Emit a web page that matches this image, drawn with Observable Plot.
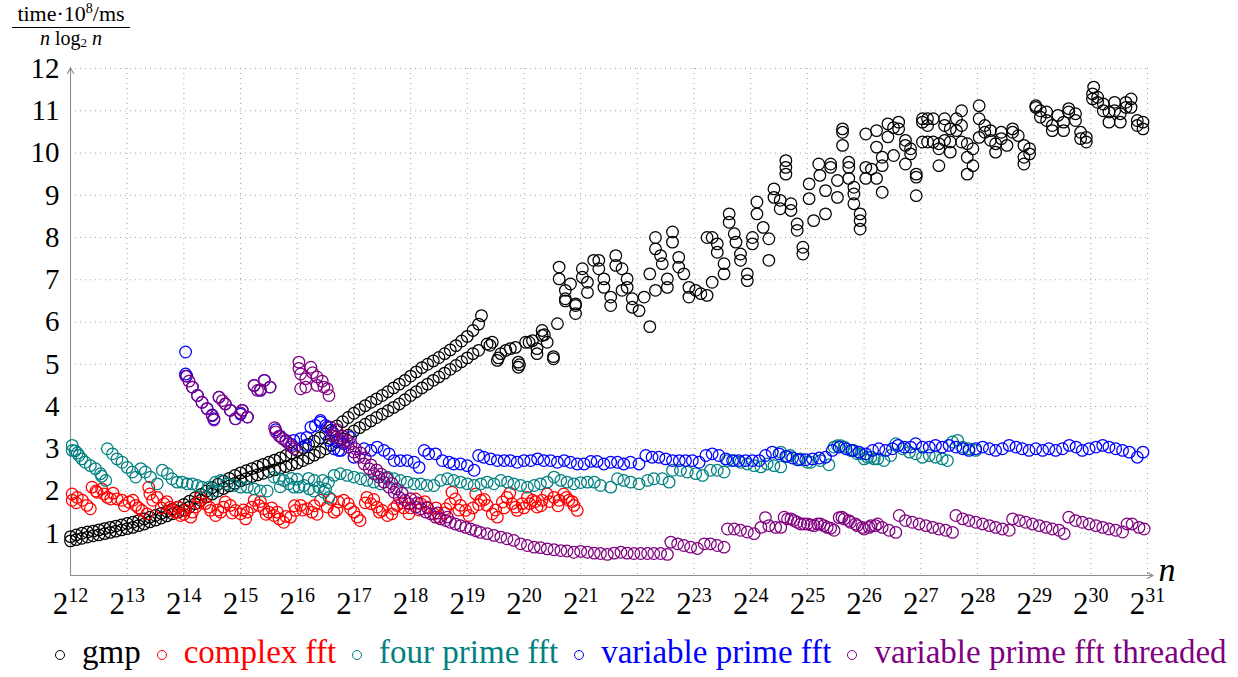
<!DOCTYPE html>
<html><head><meta charset="utf-8">
<script src="https://cdn.jsdelivr.net/npm/d3@7"></script>
<script src="https://cdn.jsdelivr.net/npm/@observablehq/plot@0.6"></script>
<style>
body{margin:0;background:#fff;}
#chart{position:absolute;left:0;top:0;}
#legend{font-family:"Liberation Serif",serif;font-size:33px;position:absolute;left:55px;top:633px;white-space:nowrap;line-height:38px}
#legend .it{margin-right:16px}
#legend .mk{display:inline-block;box-sizing:border-box;width:10px;height:10px;border:1.3px solid;border-radius:50%;margin-right:17px;vertical-align:3.5px}
</style></head><body><div id="chart"></div><div id="legend"></div>
<script>
const seriesNames = ["gmp","complex fft","four prime fft","variable prime fft","variable prime fft threaded"];
const seriesColors = ["#000000","#ff0000","#008080","#0000ff","#800080"];
const xTicks = [12,13,14,15,16,17,18,19,20,21,22,23,24,25,26,27,28,29,30,31];
const yTicks = [1,2,3,4,5,6,7,8,9,10,11,12];
const xDomain = [12,31];
const yDomain = [0,12];

// x = log2 n, y = time*1e8/ms / (n log2 n)
const gmpLow = [[12.0,.82],[12.1,.85],[12.2,.88],[12.3,.91],[12.4,.94],[12.5,.96],[12.6,.99],[12.7,1.02],[12.8,1.05],[12.9,1.08],[13.0,1.11],[13.1,1.14],[13.2,1.18],[13.3,1.22],[13.4,1.27],[13.5,1.31],[13.6,1.36],[13.7,1.41],[13.8,1.46],[13.9,1.5],[14.0,1.55],[14.1,1.62],[14.2,1.7],[14.3,1.78],[14.4,1.86],[14.5,1.93],[14.6,2.0],[14.7,2.06],[14.8,2.12],[14.9,2.18],[15.0,2.24],[15.1,2.29],[15.2,2.34],[15.3,2.38],[15.4,2.42],[15.5,2.46],[15.6,2.5],[15.7,2.54],[15.8,2.58],[15.9,2.62],[16.0,2.66],[16.1,2.72],[16.2,2.78],[16.3,2.85],[16.4,2.92],[16.5,3.0],[16.6,3.08],[16.7,3.16],[16.8,3.24],[16.9,3.32],[17.0,3.42],[17.1,3.5],[17.2,3.58],[17.3,3.66],[17.4,3.74],[17.5,3.82],[17.6,3.9],[17.7,3.98],[17.8,4.06],[17.9,4.16],[18.0,4.26],[18.1,4.35],[18.2,4.44],[18.3,4.53],[18.4,4.62],[18.5,4.7],[18.6,4.79],[18.7,4.88],[18.8,4.97],[18.9,5.06],[19.0,5.15],[19.1,5.25],[19.2,5.33]];
const gmpHigh = [[12.0,.92],[12.1,.96],[12.2,1.0],[12.3,1.03],[12.4,1.05],[12.5,1.08],[12.6,1.11],[12.7,1.14],[12.8,1.17],[12.9,1.2],[13.0,1.23],[13.1,1.26],[13.2,1.3],[13.3,1.34],[13.4,1.38],[13.5,1.42],[13.6,1.47],[13.7,1.52],[13.8,1.57],[13.9,1.62],[14.0,1.68],[14.1,1.76],[14.2,1.84],[14.3,1.92],[14.4,2.0],[14.5,2.08],[14.6,2.16],[14.7,2.23],[14.8,2.3],[14.9,2.37],[15.0,2.43],[15.1,2.48],[15.2,2.53],[15.3,2.58],[15.4,2.63],[15.5,2.68],[15.6,2.73],[15.7,2.78],[15.8,2.84],[15.9,2.9],[16.0,2.96],[16.1,3.03],[16.2,3.1],[16.3,3.18],[16.4,3.26],[16.5,3.35],[16.6,3.44],[16.7,3.54],[16.8,3.64],[16.9,3.74],[17.0,3.84],[17.1,3.93],[17.2,4.02],[17.3,4.1],[17.4,4.18],[17.5,4.26],[17.6,4.35],[17.7,4.44],[17.8,4.53],[17.9,4.62],[18.0,4.72],[18.1,4.82],[18.2,4.92],[18.3,5.0],[18.4,5.08],[18.5,5.16],[18.6,5.25],[18.7,5.34],[18.8,5.44],[18.9,5.55],[19.0,5.66],[19.1,5.8],[19.2,5.95],[19.25,6.15]];
const gmpScatter = [[19.35,5.48],[19.4,5.45],[19.44,5.52],[19.53,5.09],[19.55,5.15],[19.59,5.25],[19.68,5.33],[19.76,5.37],[19.85,5.4],[19.9,5.05],[19.9,4.93],[19.92,4.99],[20.03,5.52],[20.09,5.52],[20.15,5.56],[20.23,5.37],[20.23,5.25],[20.32,5.8],[20.32,5.68],[20.36,5.7],[20.41,5.52],[20.52,5.13],[20.52,5.18],[20.59,5.96],[20.62,7.3],[20.62,7.02],[20.73,6.75],[20.73,6.55],[20.73,6.5],[20.82,6.9],[20.91,6.43],[20.91,6.2],[20.91,6.39],[21.03,7.26],[21.03,7.06],[21.12,6.94],[21.12,6.7],[21.23,7.46],[21.32,7.46],[21.32,7.26],[21.41,7.02],[21.41,6.82],[21.53,6.59],[21.53,6.39],[21.62,7.57],[21.62,7.34],[21.73,7.26],[21.73,6.75],[21.82,7.02],[21.82,6.82],[21.91,6.55],[21.91,6.35],[22.03,6.27],[22.12,6.59],[22.22,5.89],[22.22,7.14],[22.32,6.75],[22.32,8.0],[22.32,7.73],[22.41,7.57],[22.44,7.38],[22.53,7.02],[22.53,6.82],[22.62,8.13],[22.62,7.89],[22.73,7.53],[22.73,7.3],[22.82,7.14],[22.91,6.82],[22.91,6.59],[23.03,6.75],[23.12,6.67],[23.23,6.63],[23.23,8.0],[23.32,8.0],[23.32,6.94],[23.41,7.85],[23.41,7.65],[23.53,7.38],[23.53,7.14],[23.62,8.56],[23.62,8.36],[23.71,8.09],[23.74,7.89],[23.82,7.61],[23.82,7.46],[23.94,7.14],[23.94,6.98],[24.03,8.0],[24.03,7.85],[24.11,8.84],[24.11,8.56],[24.22,8.24],[24.32,7.97],[24.32,7.46],[24.41,9.15],[24.41,8.95],[24.52,8.88],[24.52,8.68],[24.62,9.82],[24.62,9.66],[24.62,9.5],[24.71,8.8],[24.71,8.64],[24.82,8.32],[24.82,8.17],[24.92,7.77],[24.92,7.61],[25.03,9.27],[25.03,8.92],[25.11,8.4],[25.2,9.74],[25.22,9.47],[25.32,9.11],[25.32,8.56],[25.41,9.74],[25.41,9.66],[25.53,9.35],[25.53,8.95],[25.62,10.57],[25.62,10.49],[25.62,10.18],[25.73,9.78],[25.73,9.66],[25.73,9.4],[25.82,9.19],[25.82,9.03],[25.82,8.8],[25.93,8.56],[25.93,8.4],[25.93,8.2],[26.03,10.45],[26.03,9.66],[26.03,9.4],[26.13,9.62],[26.22,10.53],[26.22,10.14],[26.22,9.4],[26.32,9.9],[26.32,9.7],[26.32,9.07],[26.42,10.69],[26.42,10.38],[26.52,9.94],[26.52,10.6],[26.61,10.73],[26.61,10.57],[26.73,10.3],[26.73,10.18],[26.73,9.74],[26.82,10.1],[26.82,9.98],[26.92,9.5],[26.92,9.43],[26.92,8.99],[27.03,10.81],[27.03,10.73],[27.03,10.26],[27.12,10.81],[27.12,10.65],[27.12,10.26],[27.22,10.81],[27.22,10.26],[27.32,10.22],[27.32,10.1],[27.32,9.7],[27.42,10.81],[27.42,10.65],[27.42,10.3],[27.52,10.57],[27.52,10.26],[27.52,10.02],[27.63,10.81],[27.63,10.53],[27.72,11.0],[27.72,10.65],[27.72,10.26],[27.82,10.22],[27.82,9.9],[27.82,9.5],[27.92,10.1],[27.92,9.7],[28.03,11.12],[28.03,10.81],[28.03,10.37],[28.13,10.65],[28.13,10.49],[28.23,10.53],[28.23,10.3],[28.32,10.22],[28.32,10.02],[28.42,10.49],[28.42,10.34],[28.52,10.18],[28.62,10.57],[28.62,10.49],[28.72,10.41],[28.82,10.18],[28.82,9.9],[28.82,9.74],[28.92,10.1],[28.92,9.98],[29.03,11.12],[29.03,11.08],[29.11,11.0],[29.11,10.85],[29.22,10.97],[29.22,10.77],[29.32,10.65],[29.32,10.53],[29.42,10.89],[29.52,10.53],[29.52,10.73],[29.61,11.05],[29.61,10.97],[29.73,10.93],[29.73,10.77],[29.82,10.49],[29.82,10.34],[29.92,10.37],[29.92,10.26],[30.03,11.4],[30.03,11.28],[30.05,11.56],[30.12,11.32],[30.12,11.2],[30.22,11.16],[30.22,11.0],[30.32,10.97],[30.32,10.73],[30.42,11.2],[30.42,11.0],[30.52,10.93],[30.52,10.73],[30.62,11.2],[30.62,11.08],[30.71,11.28],[30.71,11.08],[30.82,10.77],[30.82,10.65],[30.92,10.73],[30.92,10.57]];
const complexFft = [[12.03,1.93],[12.03,1.78],[12.1,1.72],[12.12,1.85],[12.21,1.78],[12.29,1.66],[12.35,1.58],[12.38,2.09],[12.45,2.0],[12.47,1.97],[12.55,2.05],[12.59,1.93],[12.65,1.85],[12.71,1.81],[12.75,1.95],[12.82,1.81],[12.91,1.78],[12.95,1.65],[13.03,1.74],[13.1,1.78],[13.15,1.66],[13.2,1.6],[13.26,1.54],[13.35,1.46],[13.38,2.09],[13.4,1.93],[13.45,1.78],[13.53,1.85],[13.6,1.6],[13.65,1.7],[13.7,1.75],[13.76,1.62],[13.8,1.55],[13.85,1.5],[13.9,1.62],[13.94,1.42],[14.0,1.45],[14.03,1.54],[14.12,1.38],[14.15,1.5],[14.21,1.62],[14.25,1.72],[14.29,1.85],[14.38,1.7],[14.45,1.62],[14.47,1.54],[14.56,1.42],[14.6,1.55],[14.65,1.5],[14.7,1.62],[14.73,1.74],[14.82,1.66],[14.85,1.48],[14.91,1.54],[15.0,1.46],[15.05,1.55],[15.09,1.34],[15.12,1.5],[15.2,1.62],[15.24,1.78],[15.32,1.66],[15.35,1.75],[15.41,1.58],[15.45,1.45],[15.5,1.5],[15.55,1.6],[15.59,1.42],[15.65,1.5],[15.68,1.34],[15.76,1.26],[15.8,1.4],[15.88,1.38],[15.95,1.65],[15.97,1.54],[16.06,1.66],[16.1,1.55],[16.18,1.58],[16.26,1.5],[16.3,1.65],[16.35,1.45],[16.41,1.78],[16.53,1.62],[16.6,1.8],[16.65,1.5],[16.7,1.55],[16.73,1.74],[16.82,1.78],[16.9,1.7],[16.94,1.58],[17.0,1.5],[17.06,1.38],[17.11,1.3],[17.2,1.72],[17.23,1.85],[17.3,1.7],[17.35,1.8],[17.41,1.62],[17.45,1.5],[17.5,1.54],[17.59,1.42],[17.67,1.46],[17.7,1.58],[17.76,1.66],[17.85,1.72],[17.88,1.6],[17.97,1.46],[18.0,1.6],[18.09,1.81],[18.15,1.55],[18.18,1.7],[18.25,1.75],[18.29,1.62],[18.41,1.46],[18.45,1.6],[18.5,1.38],[18.6,1.48],[18.62,1.58],[18.7,1.7],[18.73,1.97],[18.79,1.81],[18.85,1.55],[18.88,1.66],[18.97,1.54],[19.03,1.42],[19.1,1.6],[19.15,1.93],[19.2,1.68],[19.24,1.78],[19.3,1.8],[19.35,1.66],[19.44,1.46],[19.5,1.55],[19.53,1.38],[19.62,1.74],[19.65,1.6],[19.7,1.85],[19.75,1.95],[19.79,1.7],[19.85,1.62],[19.88,1.54],[19.97,1.7],[20.0,1.6],[20.06,1.85],[20.1,1.7],[20.15,1.78],[20.2,1.75],[20.23,1.62],[20.3,1.65],[20.32,1.78],[20.41,1.93],[20.45,1.75],[20.53,1.85],[20.6,1.65],[20.62,1.78],[20.7,1.93],[20.75,1.85],[20.79,1.78],[20.85,1.75],[20.88,1.66],[20.94,1.54]];
const fourPrimeFft = [[12.03,3.08],[12.03,2.96],[12.08,2.95],[12.12,2.9],[12.15,2.84],[12.2,2.76],[12.26,2.68],[12.35,2.6],[12.44,2.53],[12.53,2.41],[12.55,2.35],[12.62,2.25],[12.65,3.0],[12.74,2.88],[12.82,2.76],[12.91,2.68],[13.0,2.56],[13.09,2.45],[13.15,2.33],[13.24,2.53],[13.32,2.45],[13.41,2.33],[13.53,2.17],[13.62,2.49],[13.71,2.41],[13.79,2.29],[13.88,2.21],[13.97,2.21],[14.06,2.17],[14.15,2.17],[14.24,2.13],[14.32,2.09],[14.44,2.09],[14.53,2.0],[14.56,2.21],[14.65,2.25],[14.76,2.17],[14.88,2.13],[15.0,2.09],[15.12,2.09],[15.24,2.05],[15.35,2.0],[15.47,2.0],[15.59,2.33],[15.68,2.29],[15.7,2.1],[15.76,2.25],[15.85,2.17],[15.9,2.3],[15.94,2.09],[16.0,2.28],[16.03,2.09],[16.12,2.13],[16.2,2.3],[16.21,2.05],[16.29,2.0],[16.3,2.25],[16.38,2.09],[16.45,2.25],[16.47,1.97],[16.5,2.05],[16.55,2.2],[16.56,1.85],[16.65,2.37],[16.76,2.41],[16.88,2.37],[17.0,2.33],[17.12,2.29],[17.23,2.25],[17.35,2.21],[17.47,2.17],[17.59,2.33],[17.71,2.29],[17.82,2.25],[17.94,2.21],[18.06,2.17],[18.18,2.17],[18.29,2.13],[18.41,2.13],[18.53,2.25],[18.65,2.29],[18.76,2.25],[18.88,2.21],[19.0,2.17],[19.12,2.13],[19.24,2.17],[19.35,2.21],[19.47,2.17],[19.59,2.25],[19.71,2.21],[19.82,2.17],[19.94,2.13],[20.06,2.09],[20.18,2.13],[20.29,2.17],[20.41,2.21],[20.53,2.33],[20.65,2.25],[20.76,2.21],[20.88,2.17],[21.0,2.2],[21.12,2.21],[21.24,2.21],[21.35,2.13],[21.53,2.09],[21.65,2.29],[21.76,2.25],[21.88,2.21],[22.03,2.17],[22.18,2.25],[22.29,2.29],[22.44,2.29],[22.56,2.21],[22.62,2.49],[22.76,2.49],[22.88,2.45],[23.03,2.41],[23.15,2.37],[23.29,2.49],[23.41,2.49],[23.53,2.45],[23.59,2.72],[23.71,2.72],[23.82,2.68],[23.94,2.64],[24.06,2.6],[24.18,2.57],[24.29,2.64],[24.41,2.6],[24.53,2.57],[24.53,2.92],[24.65,2.82],[24.7,2.84],[24.82,2.74],[24.88,2.76],[25.0,2.68],[25.06,2.68],[25.23,2.72],[25.38,2.62],[25.47,3.04],[25.53,3.07],[25.59,3.07],[25.65,3.04],[25.76,2.96],[25.82,2.96],[25.88,2.88],[25.94,2.88],[26.0,2.76],[26.06,2.8],[26.12,2.8],[26.18,2.76],[26.24,2.76],[26.35,2.72],[26.47,2.84],[26.56,3.12],[26.68,3.0],[26.8,2.92],[26.91,2.88],[27.03,2.8],[27.15,2.84],[27.26,2.8],[27.38,2.76],[27.47,2.72],[27.56,3.16],[27.65,3.2],[27.74,3.04],[27.85,3.0],[27.97,2.96]];
const variablePrimeFft = [[14.03,5.29],[14.03,4.77],[14.05,4.72],[14.15,4.46],[14.24,4.26],[14.32,4.1],[14.41,3.95],[14.5,3.8],[14.53,3.71],[14.62,4.22],[14.73,4.06],[14.82,3.91],[14.91,3.71],[15.0,3.82],[15.03,3.91],[15.12,3.75],[15.24,4.5],[15.35,4.38],[15.42,4.62],[15.52,4.46],[15.62,3.45],[15.7,3.3],[15.8,3.2],[15.9,3.1],[15.94,3.2],[16.06,3.24],[16.15,3.08],[16.17,3.27],[16.24,3.51],[16.32,3.55],[16.41,3.63],[16.41,3.67],[16.5,3.55],[16.53,3.51],[16.56,3.2],[16.62,3.39],[16.65,3.0],[16.71,3.2],[16.73,2.96],[16.77,2.96],[16.82,3.12],[16.94,3.27],[17.0,2.8],[17.18,3.0],[17.3,2.96],[17.41,3.04],[17.53,2.96],[17.62,2.88],[17.71,2.72],[17.82,2.72],[17.94,2.72],[18.06,2.68],[18.15,2.56],[18.24,2.96],[18.32,2.88],[18.44,2.88],[18.56,2.72],[18.68,2.68],[18.76,2.64],[18.88,2.64],[19.0,2.6],[19.12,2.49],[19.2,2.84],[19.29,2.8],[19.41,2.76],[19.53,2.72],[19.65,2.72],[19.76,2.72],[19.88,2.68],[20.0,2.72],[20.12,2.72],[20.24,2.76],[20.35,2.72],[20.47,2.72],[20.59,2.68],[20.71,2.72],[20.82,2.68],[20.94,2.64],[21.06,2.64],[21.18,2.7],[21.29,2.7],[21.41,2.64],[21.53,2.68],[21.65,2.68],[21.76,2.64],[21.88,2.68],[22.03,2.64],[22.15,2.84],[22.26,2.8],[22.38,2.8],[22.5,2.76],[22.62,2.72],[22.74,2.72],[22.85,2.72],[22.97,2.72],[23.09,2.68],[23.21,2.84],[23.32,2.88],[23.44,2.84],[23.56,2.76],[23.68,2.72],[23.79,2.72],[23.91,2.72],[24.03,2.72],[24.15,2.72],[24.26,2.84],[24.38,2.92],[24.5,2.88],[24.62,2.82],[24.74,2.78],[24.85,2.74],[24.97,2.74],[25.09,2.76],[25.21,2.78],[25.32,2.8],[25.44,2.96],[25.56,3.04],[25.68,3.0],[25.79,2.96],[25.91,2.92],[26.03,2.88],[26.15,2.96],[26.26,3.0],[26.38,2.96],[26.5,3.0],[26.6,3.08],[26.71,3.04],[26.82,3.04],[26.91,3.12],[27.03,3.04],[27.15,3.04],[27.26,3.08],[27.38,3.04],[27.5,3.08],[27.62,3.04],[27.74,3.0],[27.85,2.96],[27.97,3.0],[28.09,3.04],[28.21,3.0],[28.32,2.96],[28.44,3.0],[28.56,3.08],[28.68,3.04],[28.79,3.0],[28.91,2.96],[29.03,3.0],[29.15,2.96],[29.26,3.0],[29.38,2.96],[29.5,3.0],[29.62,3.08],[29.74,3.04],[29.85,2.96],[29.97,3.0],[30.09,3.04],[30.21,3.08],[30.32,3.04],[30.44,3.0],[30.56,2.96],[30.68,2.92],[30.82,2.8],[30.92,2.92]];
const variablePrimeThreaded = [[14.03,4.72],[14.09,4.6],[14.15,4.46],[14.24,4.26],[14.32,4.1],[14.41,3.95],[14.5,3.78],[14.53,3.68],[14.62,4.22],[14.68,4.14],[14.73,4.06],[14.82,3.91],[14.91,3.71],[15.0,3.85],[15.03,3.91],[15.12,3.75],[15.24,4.5],[15.3,4.38],[15.35,4.4],[15.42,4.62],[15.52,4.46],[15.6,3.5],[15.62,3.4],[15.68,3.3],[15.74,3.24],[15.8,3.18],[15.85,3.12],[15.9,3.05],[15.95,3.0],[16.03,5.05],[16.03,4.9],[16.06,4.77],[16.06,4.42],[16.15,4.66],[16.15,4.46],[16.24,4.93],[16.27,4.8],[16.35,4.7],[16.35,4.5],[16.44,4.6],[16.47,4.46],[16.53,4.42],[16.56,4.26],[16.59,3.51],[16.62,3.3],[16.65,3.35],[16.7,3.45],[16.73,3.23],[16.8,3.3],[16.82,3.16],[16.88,3.2],[16.9,3.04],[16.95,3.12],[17.0,2.92],[17.03,3.0],[17.09,2.8],[17.12,2.9],[17.18,2.64],[17.2,2.78],[17.27,2.53],[17.3,2.62],[17.35,2.41],[17.4,2.5],[17.44,2.33],[17.48,2.4],[17.53,2.21],[17.58,2.3],[17.62,2.09],[17.67,2.18],[17.71,1.97],[17.75,2.05],[17.8,1.85],[17.85,1.95],[17.9,1.78],[17.97,1.7],[18.0,1.82],[18.09,1.62],[18.12,1.72],[18.18,1.58],[18.27,1.5],[18.3,1.6],[18.35,1.46],[18.44,1.38],[18.48,1.48],[18.53,1.34],[18.62,1.3],[18.65,1.38],[18.7,1.26],[18.79,1.22],[18.88,1.18],[18.97,1.14],[19.06,1.1],[19.15,1.06],[19.23,1.02],[19.35,0.99],[19.47,0.95],[19.59,0.91],[19.7,0.87],[19.82,0.83],[19.94,0.75],[20.06,0.71],[20.18,0.67],[20.29,0.66],[20.41,0.63],[20.53,0.61],[20.65,0.59],[20.76,0.58],[20.88,0.55],[21.0,0.57],[21.12,0.55],[21.24,0.53],[21.35,0.52],[21.47,0.5],[21.59,0.53],[21.71,0.55],[21.82,0.53],[21.94,0.52],[22.06,0.52],[22.18,0.52],[22.29,0.52],[22.41,0.52],[22.53,0.5],[22.59,0.79],[22.71,0.75],[22.82,0.71],[22.94,0.67],[23.06,0.64],[23.18,0.75],[23.29,0.75],[23.41,0.71],[23.53,0.67],[23.59,1.1],[23.71,1.1],[23.82,1.07],[23.94,1.03],[24.06,0.99],[24.18,1.14],[24.26,1.37],[24.32,1.18],[24.44,1.14],[24.53,1.14],[24.59,1.38],[24.65,1.34],[24.71,1.34],[24.76,1.3],[24.82,1.26],[24.88,1.22],[24.94,1.22],[25.0,1.22],[25.06,1.2],[25.12,1.18],[25.18,1.22],[25.23,1.22],[25.29,1.18],[25.35,1.14],[25.41,1.12],[25.47,1.07],[25.56,1.37],[25.61,1.38],[25.65,1.34],[25.73,1.3],[25.76,1.26],[25.85,1.22],[25.88,1.18],[25.97,1.14],[26.0,1.1],[26.09,1.14],[26.12,1.18],[26.2,1.18],[26.24,1.22],[26.32,1.14],[26.44,1.07],[26.56,1.02],[26.62,1.42],[26.73,1.3],[26.85,1.26],[26.97,1.22],[27.09,1.18],[27.21,1.14],[27.32,1.1],[27.44,1.07],[27.56,1.02],[27.62,1.42],[27.74,1.34],[27.85,1.3],[27.97,1.26],[28.09,1.22],[28.21,1.18],[28.32,1.14],[28.44,1.1],[28.56,1.07],[28.62,1.34],[28.74,1.3],[28.85,1.26],[28.97,1.22],[29.09,1.18],[29.21,1.14],[29.32,1.1],[29.44,1.07],[29.53,0.99],[29.61,1.38],[29.73,1.3],[29.85,1.26],[29.97,1.22],[30.09,1.18],[30.21,1.14],[30.32,1.1],[30.44,1.07],[30.56,1.03],[30.64,1.22],[30.73,1.22],[30.85,1.14],[30.94,1.1]];

const seriesData = [gmpLow.concat(gmpHigh, gmpScatter), complexFft, fourPrimeFft, variablePrimeFft, variablePrimeThreaded];

const gridStyle = {stroke:"#9a9a9a", strokeOpacity:1, strokeWidth:0.9, strokeDasharray:"1,4"};
const axisColor = "#8c8c8c";

const chart = Plot.plot({
  width:1238, height:620,
  marginLeft:70, marginRight:91, marginTop:68, marginBottom:45,
  style:{fontFamily:"'Liberation Serif', serif", background:"white", color:"black"},
  x:{domain:xDomain, axis:null},
  y:{domain:yDomain, axis:null},
  marks:[
    Plot.gridX(xTicks.slice(1), gridStyle),
    Plot.gridY(yTicks, gridStyle),
    Plot.axisY(yTicks, {tickSize:0, tickPadding:11, fontSize:29, tickFormat:d=>String(d), label:null}),
    Plot.axisX(xTicks, {tickSize:0, tickPadding:16, fontSize:31, tickFormat:d=>String(d), label:null}),
    Plot.arrow([{x1:xDomain[0], y1:yDomain[0], x2:xDomain[1]+0.1, y2:yDomain[0]}], {x1:"x1", y1:"y1", x2:"x2", y2:"y2", stroke:axisColor, strokeWidth:1.1, headLength:9, headAngle:55}),
    Plot.arrow([{x1:xDomain[0], y1:yDomain[0], x2:xDomain[0], y2:yDomain[1]+0.02}], {x1:"x1", y1:"y1", x2:"x2", y2:"y2", stroke:axisColor, strokeWidth:1.1, headLength:9, headAngle:55}),
    ...seriesData.map((pts, i) => Plot.dot(pts, {x:d=>d[0], y:d=>d[1], r:5.8, stroke:seriesColors[i], strokeWidth:1.25, fill:"none"})),
    Plot.text(["n"], {x:()=>xDomain[1], y:()=>yDomain[0], dx:11, dy:-5, textAnchor:"start", fontSize:34, fontStyle:"italic", fill:"black"})
  ]
});
document.getElementById("chart").appendChild(chart);

// x tick labels as 2^k with real superscripts
const svg = d3.select(chart);
svg.selectAll('g[aria-label="x-axis tick label"] text').each(function(){
  const t = d3.select(this);
  const k = t.text();
  t.text("");
  t.append("tspan").text("2");
  t.append("tspan").attr("font-size", 20).attr("dy", "-12").text(k);
});

// y axis label as a fraction
const lab = svg.append("g").attr("font-family","'Liberation Serif', serif").attr("fill","black");
const num = lab.append("text").attr("x", 71).attr("y", 21).attr("text-anchor","middle").attr("font-size", 22);
num.append("tspan").text("time\u00b710");
num.append("tspan").attr("font-size", 14).attr("dy", -8).text("8");
num.append("tspan").attr("dy", 8).text("/ms");
lab.append("line").attr("x1", 12).attr("x2", 130).attr("y1", 27.5).attr("y2", 27.5).attr("stroke","black").attr("stroke-width",1);
const den = lab.append("text").attr("x", 71).attr("y", 44.5).attr("text-anchor","middle").attr("font-size", 20);
den.append("tspan").attr("font-style","italic").text("n");
den.append("tspan").text(" log");
den.append("tspan").attr("font-size", 13).attr("dy", 2).text("2");
den.append("tspan").attr("dy", -2).text(" ");
den.append("tspan").attr("font-style","italic").text("n");

// legend
const legend = d3.select("#legend");
seriesNames.forEach((name, i) => {
  const it = legend.append("span").attr("class","it").style("color", seriesColors[i]);
  it.append("span").attr("class","mk").style("border-color", seriesColors[i]);
  it.append("span").text(name);
});
</script></body></html>
